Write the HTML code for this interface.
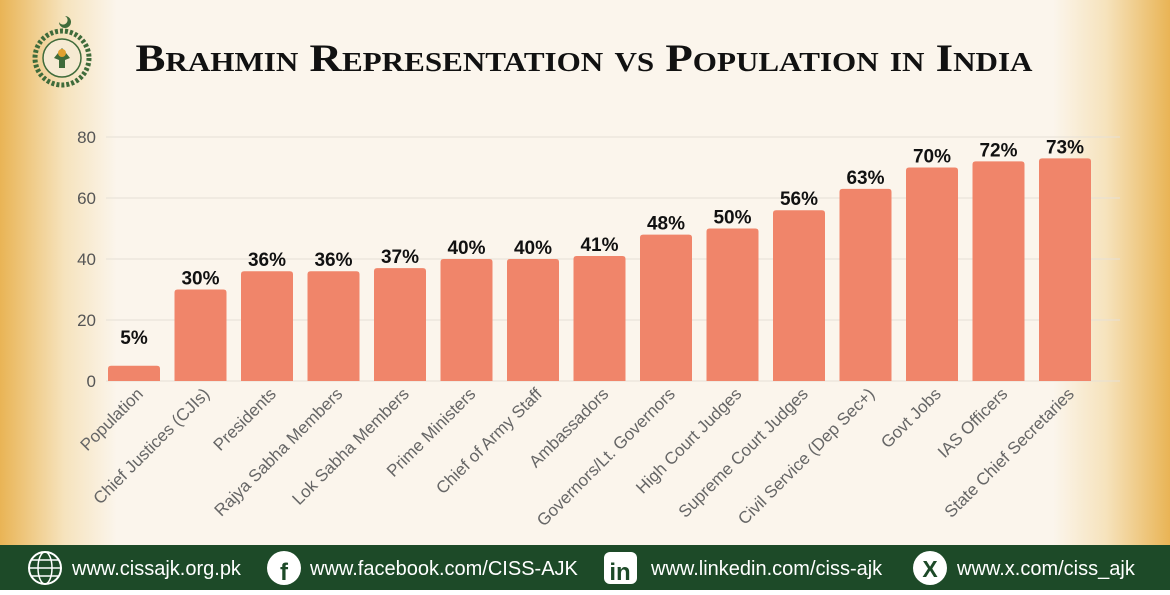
<!DOCTYPE html>
<html><head><meta charset="utf-8"><style>
html,body{margin:0;padding:0;}
body{width:1170px;height:590px;overflow:hidden;}
</style></head><body>
<svg width="1170" height="590" viewBox="0 0 1170 590" xmlns="http://www.w3.org/2000/svg" font-family="Liberation Sans, sans-serif">
<defs>
<linearGradient id="bg" x1="0" x2="1" y1="0" y2="0">
<stop offset="0" stop-color="#e9b455"/>
<stop offset="0.055" stop-color="#f6e3bd"/>
<stop offset="0.1" stop-color="#fbf5ec"/>
<stop offset="0.9" stop-color="#fbf5ec"/>
<stop offset="0.945" stop-color="#f6e3bd"/>
<stop offset="1" stop-color="#e9b455"/>
</linearGradient>
</defs>
<rect width="1170" height="590" fill="url(#bg)"/>
<g transform="translate(62,58)">
<circle r="27" fill="none" stroke="#3f6b3a" stroke-width="5" stroke-dasharray="3 2"/>
<circle r="19" fill="#f6ead2" stroke="#3f6b3a" stroke-width="1.5"/>
<path d="M0,-10 L8,0 L3,2 L3,10 L-3,10 L-3,2 L-8,0 Z" fill="#3f6b3a"/>
<circle cx="0" cy="-5" r="4" fill="#e0a030"/>
<path d="M-3,-36 a6,6 0 1,0 6,-6 a4.5,4.5 0 1,1 -6,6z" fill="#3f6b3a"/>
</g>
<text x="584" y="71" text-anchor="middle" font-family="Liberation Serif, serif" font-weight="bold" font-size="39" style="font-variant:small-caps" textLength="897" lengthAdjust="spacingAndGlyphs" fill="#111">Brahmin Representation vs Population in India</text>
<g stroke="#e6e0d6" stroke-width="1">
<line x1="106" x2="1120" y1="137" y2="137"/>
<line x1="106" x2="1120" y1="198" y2="198"/>
<line x1="106" x2="1120" y1="259" y2="259"/>
<line x1="106" x2="1120" y1="320" y2="320"/>
<line x1="106" x2="1120" y1="381" y2="381"/>
</g>
<g font-size="17" fill="#555" text-anchor="end">
<text x="96" y="143">80</text>
<text x="96" y="204">60</text>
<text x="96" y="265">40</text>
<text x="96" y="326">20</text>
<text x="96" y="387">0</text>
</g>
<g id="bars" fill="#f0856a"></g>
<g id="vals" font-size="19" font-weight="bold" fill="#111" text-anchor="middle"></g>
<g id="labs" font-size="17" fill="#666" text-anchor="end"></g>
<rect x="0" y="545" width="1170" height="45" fill="#1d4a28"/>
<g fill="#fff" font-size="20">
<circle cx="45" cy="568" r="16" fill="none" stroke="#fff" stroke-width="2"/>
<ellipse cx="45" cy="568" rx="7" ry="16" fill="none" stroke="#fff" stroke-width="1.5"/>
<line x1="29" x2="61" y1="568" y2="568" stroke="#fff" stroke-width="1.5"/>
<line x1="32" x2="58" y1="560" y2="560" stroke="#fff" stroke-width="1.5"/>
<line x1="32" x2="58" y1="576" y2="576" stroke="#fff" stroke-width="1.5"/>
<text x="72" y="575">www.cissajk.org.pk</text>
<circle cx="284" cy="568" r="17"/>
<text x="284" y="580" text-anchor="middle" fill="#1d4a28" font-weight="bold" font-size="24">f</text>
<text x="310" y="575">www.facebook.com/CISS-AJK</text>
<rect x="604" y="552" width="33" height="32" rx="6"/>
<text x="620" y="580" text-anchor="middle" fill="#1d4a28" font-weight="bold" font-size="24">in</text>
<text x="651" y="575">www.linkedin.com/ciss-ajk</text>
<circle cx="930" cy="568" r="17"/>
<text x="930" y="577" text-anchor="middle" fill="#1d4a28" font-weight="bold" font-size="23">X</text>
<text x="957" y="575">www.x.com/ciss_ajk</text>
</g>
</svg>
<script>
var d=[["Population",5],["Chief Justices (CJIs)",30],["Presidents",36],["Rajya Sabha Members",36],["Lok Sabha Members",37],["Prime Ministers",40],["Chief of Army Staff",40],["Ambassadors",41],["Governors/Lt. Governors",48],["High Court Judges",50],["Supreme Court Judges",56],["Civil Service (Dep Sec+)",63],["Govt Jobs",70],["IAS Officers",72],["State Chief Secretaries",73]];
var ns="http://www.w3.org/2000/svg",b=document.getElementById("bars"),v=document.getElementById("vals"),l=document.getElementById("labs");
d.forEach(function(e,i){var cx=134+i*66.5,h=e[1]*3.05,top=381-h;
var p=document.createElementNS(ns,"path");var x0=cx-26,x1=cx+26,r=3;
p.setAttribute("d","M"+x0+",381 L"+x0+","+(top+r)+" Q"+x0+","+top+" "+(x0+r)+","+top+" L"+(x1-r)+","+top+" Q"+x1+","+top+" "+x1+","+(top+r)+" L"+x1+",381Z");b.appendChild(p);
var t=document.createElementNS(ns,"text");t.setAttribute("x",cx);t.setAttribute("y",top-(e[1]==5?22:5));t.textContent=e[1]+"%";v.appendChild(t);
var s=document.createElementNS(ns,"text");s.setAttribute("transform","translate("+(cx+10)+",395) rotate(-45)");s.textContent=e[0];l.appendChild(s);});
</script>
</body></html>
